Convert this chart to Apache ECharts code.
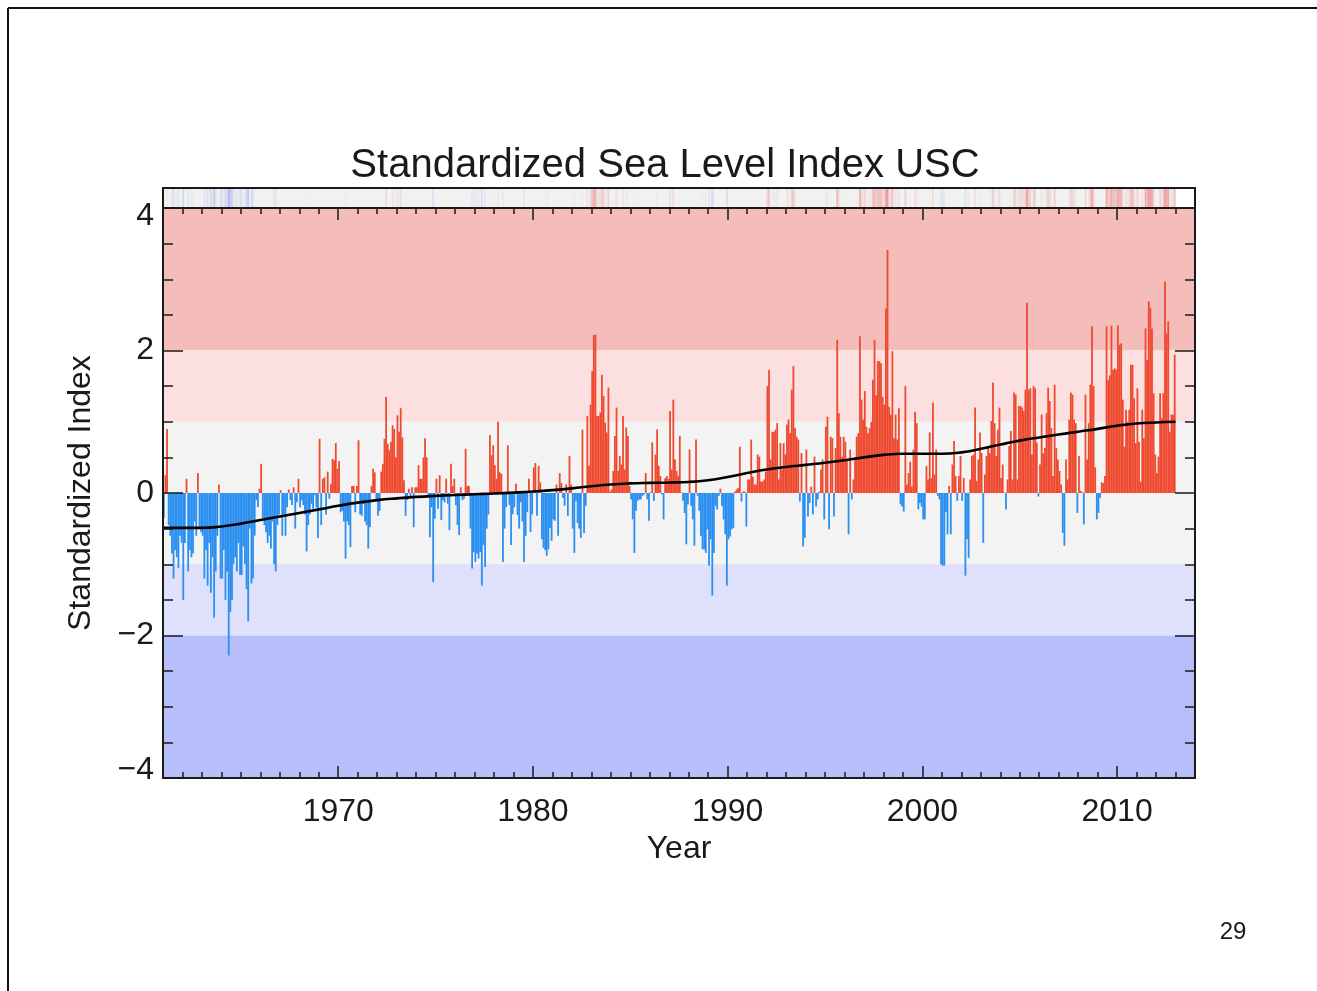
<!DOCTYPE html>
<html><head><meta charset="utf-8">
<script src="https://cdn.jsdelivr.net/npm/echarts@6/dist/echarts.min.js"></script>
<style>html,body{margin:0;padding:0;background:#fff;}#c{width:1317px;height:991px;}</style>
</head><body><div id="c"></div>
<script>
// ---- DATA (monthly standardized index, Jan 1961 .. Dec 2012) ----
const startYear = 1961;
const idx1960s = [
 -0.35, 0.25, 0.9, -0.45, -0.6, -0.85, -1.2, -0.8, -0.9, -1.05, -0.6, -0.7,
 -1.5, -0.7, 0.2, -1.1, -0.8, -0.9, -0.85, -0.4, -0.6, 0.28, -0.5, -0.55,
 -0.6, -1.2, -0.8, -1.3, -0.7, -1.4, -0.9, -1.75, -1.1, -0.6, 0.12, -1.2,
 -1.2, -0.8, -1.5, -1.1, -2.28, -1.67, -1.5, -1.0, -0.9, -1.1, -0.7, -1.15,
 -1.15, -0.75, -1.0, -1.35, -1.8, -0.5, -1.27, -1.2, -0.6, -0.1, -0.2, 0.06,
 0.41, -0.35, -0.45, -0.55, -0.7, -0.6, -0.78, -0.4, -1.0, -1.1, -0.45, -0.3,
 0.04, -0.6, -0.3, -0.6, -0.2, 0.05, -0.1, -0.17, 0.08, -0.5, -0.13, 0.2,
 -0.2, -0.1, -0.17, -0.3, -0.82, -0.45, -0.3, -0.15, -0.22, -0.03, -0.2, -0.63,
 0.76, -0.45, 0.2, 0.22, -0.3, 0.3, -0.08, 0.13, 0.48, 0.46, 0.7, 0.34
];
const idx1970s = [
 0.45, -0.27, -0.25, -0.4, -0.92, -0.4, -0.45, -0.76, 0.1, 0.1, -0.27, 0.1,
 0.74, -0.3, -0.32, -0.15, -0.4, -0.45, -0.78, -0.48, 0.1, 0.34, 0.29, -0.1,
 -0.32, -0.25, 0.3, 0.41, 0.76, 1.35, 0.69, 0.6, 0.72, 0.95, 0.9, 0.5,
 1.09, 0.86, 1.19, 0.78, 0.18, -0.32, -0.1, 0.06, -0.05, 0.08, -0.48, 0.08,
 0.08, 0.39, 0.2, 0.2, 0.5, 0.77, 0.5, -0.05, -0.62, -0.2, -1.25, -0.36,
 0.2, -0.22, 0.25, -0.38, -0.1, -0.13, 0.2, -0.15, -0.52, 0.41, 0.1, 0.2,
 -0.17, -0.45, -0.59, 0.08, -0.1, -0.08, 0.62, 0.1, 0.1, -0.5, -1.06, -0.83,
 -0.97, -0.85, -0.92, -0.83, -1.3, -0.73, -1.04, -0.5, -0.3, 0.81, 0.53, 0.67,
 0.39, 0.2, 1.0, 0.29, 0.27, -0.97, -0.5, -0.2, 0.67, -0.17, -0.73, -0.3,
 -0.2, 0.13, -0.31, -0.5, -0.13, -0.4, -0.97, -0.6, -0.27, 0.2, -0.55, -0.3
];
const idx1980s = [
 0.36, 0.42, -0.32, 0.38, 0.15, -0.65, -0.77, -0.8, -0.88, -0.79, -0.49, -0.67,
 -0.37, -0.39, 0.12, -0.6, 0.28, 0.14, -0.07, -0.18, 0.12, -0.32, 0.52, 0.12,
 -0.5, -0.84, -0.11, -0.42, -0.5, -0.63, 0.89, -0.56, -0.18, 1.08, 0.38, 1.24,
 1.71, 2.22, 2.22, 1.08, 1.08, 1.13, 1.66, 1.36, 0.99, 0.85, 1.48, 0.02,
 0.05, 0.31, 0.8, 1.2, 0.31, 0.52, 0.4, 1.08, 0.33, 0.92, 0.8, 0.1,
 -0.09, -0.37, -0.84, -0.25, -0.11, -0.09, -0.09, -0.04, -0.02, 0.28, -0.09, -0.39,
 0.01, 0.71, -0.11, 0.54, 0.89, 0.38, 0.24, -0.02, -0.37, 0.21, 0.24, 0.2,
 1.15, 0.33, 1.31, 0.47, 0.31, 0.24, 0.8, 0.01, -0.11, -0.28, -0.72, -0.16,
 0.61, -0.18, -0.37, -0.74, 0.75, -0.04, -0.25, -0.6, -0.79, -0.79, -0.84, -0.51,
 -1.02, -0.65, -1.44, -0.84, -0.18, -0.23, -0.04, 0.06, -0.18, -0.37, -0.58, -1.3
];
const idx1990s = [
 -0.65, -0.61, -0.51, -0.49, 0.02, 0.05, 0.07, 0.65, -0.12, 0.02, 0.02, -0.47,
 0.19, 0.19, 0.75, 0.23, 0.12, 0.12, 0.54, 0.51, 0.16, 0.16, 0.19, 0.3,
 1.5, 1.73, 0.47, 0.86, 0.86, 0.89, 0.98, 0.19, 0.7, 0.33, 0.7, 0.54,
 0.96, 1.03, 0.84, 1.45, 1.78, 0.91, 0.79, 0.75, -0.12, 0.56, -0.75, -0.63,
 0.61, -0.33, -0.14, 0.09, -0.3, 0.51, -0.19, -0.09, 0.02, 0.33, 0.47, -0.37,
 0.93, 1.07, -0.51, 0.79, 0.77, -0.33, 0.63, 2.15, 1.12, 0.79, 0.51, 0.79,
 0.72, 0.47, -0.58, 0.61, -0.09, 0.19, 0.5, 0.79, 0.84, 2.2, 1.31, 1.03,
 1.43, 0.93, 0.84, 0.91, 1.0, 1.59, 2.15, 1.37, 1.85, 1.85, 1.82, 1.35,
 1.24, 2.59, 3.41, 1.21, 1.1, 1.99, 0.77, 1.1, 0.75, 1.19, -0.16, -0.19,
 -0.26, 1.5, 0.12, 0.28, 0.44, 0.09, 0.61, 1.14, 0.98, -0.23, -0.14, -0.19
];
const idx2000s = [
 -0.37, -0.37, 0.38, 0.19, 0.85, 0.21, 1.27, 0.26, 0.61, -0.04, -0.09, -1.0,
 -1.02, -1.02, -0.27, -0.58, 0.1, -0.58, 0.4, 0.73, 0.24, -0.11, 0.24, 0.52,
 -0.11, 0.21, -1.16, -0.65, -0.91, 0.19, 0.52, 0.54, 1.2, 0.17, 0.47, 0.85,
 0.56, -0.7, 0.26, 0.52, 0.66, 0.56, 1.01, 1.55, 0.98, 0.52, 0.89, 1.2,
 0.21, 0.4, 0.01, -0.23, 0.19, 0.66, 0.87, 0.19, 1.41, 1.38, 0.19, 1.22,
 1.22, 1.2, 1.15, 1.45, 2.67, 1.45, 1.47, 0.54, 1.5, 1.47, 0.71, -0.05,
 0.4, 1.1, 0.56, 0.63, 1.12, 1.48, 1.29, 0.91, 0.24, 1.52, 0.63, 0.47,
 0.31, 0.12, -0.56, -0.74, 0.47, 0.19, 1.03, 1.41, 1.38, 1.03, 0.98, -0.28,
 0.52, 0.03, 0.01, -0.44, 1.38, 0.47, 0.98, 1.52, 2.34, 1.5, 0.36, -0.37,
 -0.28, -0.07, 0.15, 0.14, 0.24, 2.34, 1.59, 1.65, 2.35, 1.73, 1.75, 1.73
];
const idx2010s = [
 2.35, 2.08, 2.1, 1.31, 0.65, 1.17, 1.0, 1.17, 1.8, 1.8, 1.33, 0.7,
 1.47, 0.72, 0.16, 1.17, 0.77, 2.31, 1.87, 2.69, 2.6, 2.31, 1.4, 0.54,
 0.28, 0.51, 1.4, 1.05, 1.4, 2.97, 2.24, 2.41, 0.86, 1.1, 1.1, 1.94
];
// smoothed trend (year, value)
const trendYears = [1961,1962,1963,1964,1965,1966,1967,1968,1969,1970,1971,1972,1973,1974,1975,1976,1977,1978,1979,1980,1981,1982,1983,1984,1985,1986,1987,1988,1989,1990,1991,1992,1993,1994,1995,1996,1997,1998,1999,2000,2001,2002,2003,2004,2005,2006,2007,2008,2009,2010,2011,2012,2013];
const trendValues = [-0.49,-0.49,-0.49,-0.47,-0.43,-0.38,-0.33,-0.28,-0.23,-0.18,-0.135,-0.1,-0.075,-0.055,-0.04,-0.028,-0.017,-0.007,0.005,0.02,0.04,0.065,0.095,0.12,0.135,0.142,0.147,0.155,0.18,0.225,0.28,0.33,0.365,0.395,0.425,0.46,0.5,0.535,0.55,0.55,0.55,0.57,0.62,0.68,0.735,0.78,0.82,0.86,0.9,0.945,0.975,0.99,1.0];
const xRange = [1961, 2014];
const yRange = [-4, 4];
const titleText = 'Standardized Sea Level Index USC';
const xName = 'Year';
const yName = 'Standardized Index';
const pageNumber = '29';

// ---- build ----
const monthly = [].concat(idx1960s, idx1970s, idx1980s, idx1990s, idx2000s, idx2010s);
const barData = monthly.map((v, i) => [startYear + (i + 0.5) / 12, v]);
const trendData = trendYears.map((y, i) => [y, trendValues[i]]);
const lastX = startYear + monthly.length / 12;

const FONT = "'Liberation Sans', Arial, Helvetica, sans-serif";
const INK = '#1a1a1a';

function stripColor(v) {
  const a = Math.max(0, Math.min(1, (Math.abs(v) - 0.75) / 2.0)) * 0.6;
  return v > 0 ? 'rgba(240,95,95,' + a.toFixed(3) + ')' : 'rgba(95,110,245,' + a.toFixed(3) + ')';
}
function fmtY(v) { return v < 0 ? '\u2212' + Math.abs(v) : String(v); }

const chart = echarts.init(document.getElementById('c'), null, {renderer: 'canvas', width: 1317, height: 991});

const tickStyle = {color: INK, width: 1.5};
const option = {
  animation: false,
  backgroundColor: '#ffffff',
  textStyle: {fontFamily: FONT},
  grid: [
    {left: 163, right: 122, top: 208, bottom: 213, show: false},
    {left: 163, right: 122, top: 188, height: 20, show: true, backgroundColor: '#ffffff', borderWidth: 0}
  ],
  xAxis: [
    { // bottom labels + decade ticks
      gridIndex: 0, type: 'value', min: xRange[0], max: xRange[1], splitNumber: 5, position: 'bottom', z: 10,
      axisLine: {show: true, onZero: false, lineStyle: {color: INK, width: 2}},
      axisTick: {show: true, inside: true, length: 12, lineStyle: tickStyle},
      axisLabel: {show: true, fontSize: 32, color: INK, fontFamily: FONT, margin: 18,
        showMinLabel: false, showMaxLabel: false,
        formatter: v => (Math.round(v) % 10 === 0 ? String(Math.round(v)) : '')},
      splitLine: {show: false},
      name: xName, nameLocation: 'middle', nameGap: 53,
      nameTextStyle: {fontSize: 32, color: INK, fontFamily: FONT}
    },
    { // bottom yearly minor ticks
      gridIndex: 0, type: 'value', min: xRange[0], max: xRange[1], interval: 1, position: 'bottom', z: 10,
      axisLine: {show: false, onZero: false},
      axisTick: {show: true, inside: true, length: 6, lineStyle: tickStyle},
      axisLabel: {show: false}, splitLine: {show: false}
    },
    { // top decade ticks
      gridIndex: 0, type: 'value', min: xRange[0], max: xRange[1], splitNumber: 5, position: 'top', z: 10,
      axisLine: {show: true, onZero: false, lineStyle: {color: INK, width: 2}},
      axisTick: {show: true, inside: true, length: 12, lineStyle: tickStyle},
      axisLabel: {show: false}, splitLine: {show: false}
    },
    { // top yearly ticks
      gridIndex: 0, type: 'value', min: xRange[0], max: xRange[1], interval: 1, position: 'top', z: 10,
      axisLine: {show: false, onZero: false},
      axisTick: {show: true, inside: true, length: 6, lineStyle: tickStyle},
      axisLabel: {show: false}, splitLine: {show: false}
    },
    { // strip axis
      gridIndex: 1, type: 'value', min: xRange[0], max: xRange[1], show: false
    }
  ],
  yAxis: [
    {
      gridIndex: 0, type: 'value', min: yRange[0], max: yRange[1], interval: 2, position: 'left', z: 10,
      axisLine: {show: true, onZero: false, lineStyle: {color: INK, width: 2}},
      axisTick: {show: true, inside: true, length: 20, lineStyle: tickStyle},
      minorTick: {show: true, splitNumber: 4, length: 10, lineStyle: tickStyle},
      axisLabel: {show: true, fontSize: 32, lineHeight: 16, color: INK, fontFamily: FONT, margin: 9, formatter: fmtY,
        verticalAlignMinLabel: 'bottom', verticalAlignMaxLabel: 'top'},
      splitLine: {show: false}, minorSplitLine: {show: false},
      name: yName, nameLocation: 'middle', nameGap: 66, nameRotate: 90,
      nameTextStyle: {fontSize: 32, color: INK, fontFamily: FONT}
    },
    {
      gridIndex: 0, type: 'value', min: yRange[0], max: yRange[1], interval: 2, position: 'right', z: 10,
      axisLine: {show: true, onZero: false, lineStyle: {color: INK, width: 2}},
      axisTick: {show: true, inside: true, length: 20, lineStyle: tickStyle},
      minorTick: {show: true, splitNumber: 4, length: 10, lineStyle: tickStyle},
      axisLabel: {show: false}, splitLine: {show: false}
    },
    {gridIndex: 1, type: 'value', min: 0, max: 1, show: false}
  ],
  series: [
    { // background bands
      type: 'line', xAxisIndex: 0, yAxisIndex: 0, data: [], z: 1, silent: true,
      markArea: {
        silent: true, label: {show: false},
        data: [
          [{xAxis: xRange[0], yAxis: 2, itemStyle: {color: '#f5bdb9'}}, {xAxis: xRange[1], yAxis: 4}],
          [{xAxis: xRange[0], yAxis: 1, itemStyle: {color: '#fce0df'}}, {xAxis: xRange[1], yAxis: 2}],
          [{xAxis: xRange[0], yAxis: -1, itemStyle: {color: '#f2f3f2'}}, {xAxis: xRange[1], yAxis: 1}],
          [{xAxis: xRange[0], yAxis: -2, itemStyle: {color: '#dfe0fc'}}, {xAxis: xRange[1], yAxis: -1}],
          [{xAxis: xRange[0], yAxis: -4, itemStyle: {color: '#b6bffa'}}, {xAxis: xRange[1], yAxis: -2}]
        ]
      }
    },
    {
      type: 'bar', xAxisIndex: 0, yAxisIndex: 0, data: barData, barWidth: 1.8, z: 2, silent: true,
      itemStyle: {color: p => (p.value[1] >= 0 ? '#ef4a30' : '#2a8ff0')}
    },
    {
      type: 'line', xAxisIndex: 0, yAxisIndex: 0, data: trendData, smooth: 0.5, symbol: 'none', z: 3, silent: true,
      lineStyle: {color: '#000000', width: 2.6}
    },
    { // strip background
      type: 'line', xAxisIndex: 4, yAxisIndex: 2, data: [], z: 1, silent: true,
      markArea: {silent: true, label: {show: false},
        data: [[{xAxis: xRange[0], yAxis: 0, itemStyle: {color: '#f0f1f0'}}, {xAxis: lastX, yAxis: 1}]]}
    },
    { // strip marks
      type: 'bar', xAxisIndex: 4, yAxisIndex: 2, barWidth: 1.7, z: 2, silent: true,
      data: monthly.map((v, i) => ({value: [startYear + (i + 0.5) / 12, 1], itemStyle: {color: stripColor(v)}}))
    }
  ],
  graphic: [
    {type: 'rect', z: 100, shape: {x: 163, y: 188, width: 1032, height: 20}, style: {fill: 'none', stroke: INK, lineWidth: 2}},
    {type: 'line', z: 100, shape: {x1: 8, y1: 8, x2: 1317, y2: 8}, style: {stroke: '#111', lineWidth: 2}},
    {type: 'line', z: 100, shape: {x1: 8, y1: 8, x2: 8, y2: 991}, style: {stroke: '#111', lineWidth: 2}},
    {type: 'text', z: 100, x: 665, y: 166, style: {text: titleText, fontSize: 40, fontFamily: FONT, fill: INK, textAlign: 'center', textVerticalAlign: 'middle'}},
    {type: 'text', z: 100, x: 1233, y: 932, style: {text: pageNumber, fontSize: 24, fontFamily: FONT, fill: INK, textAlign: 'center', textVerticalAlign: 'middle'}}
  ]
};
chart.setOption(option);
</script>
</body></html>
